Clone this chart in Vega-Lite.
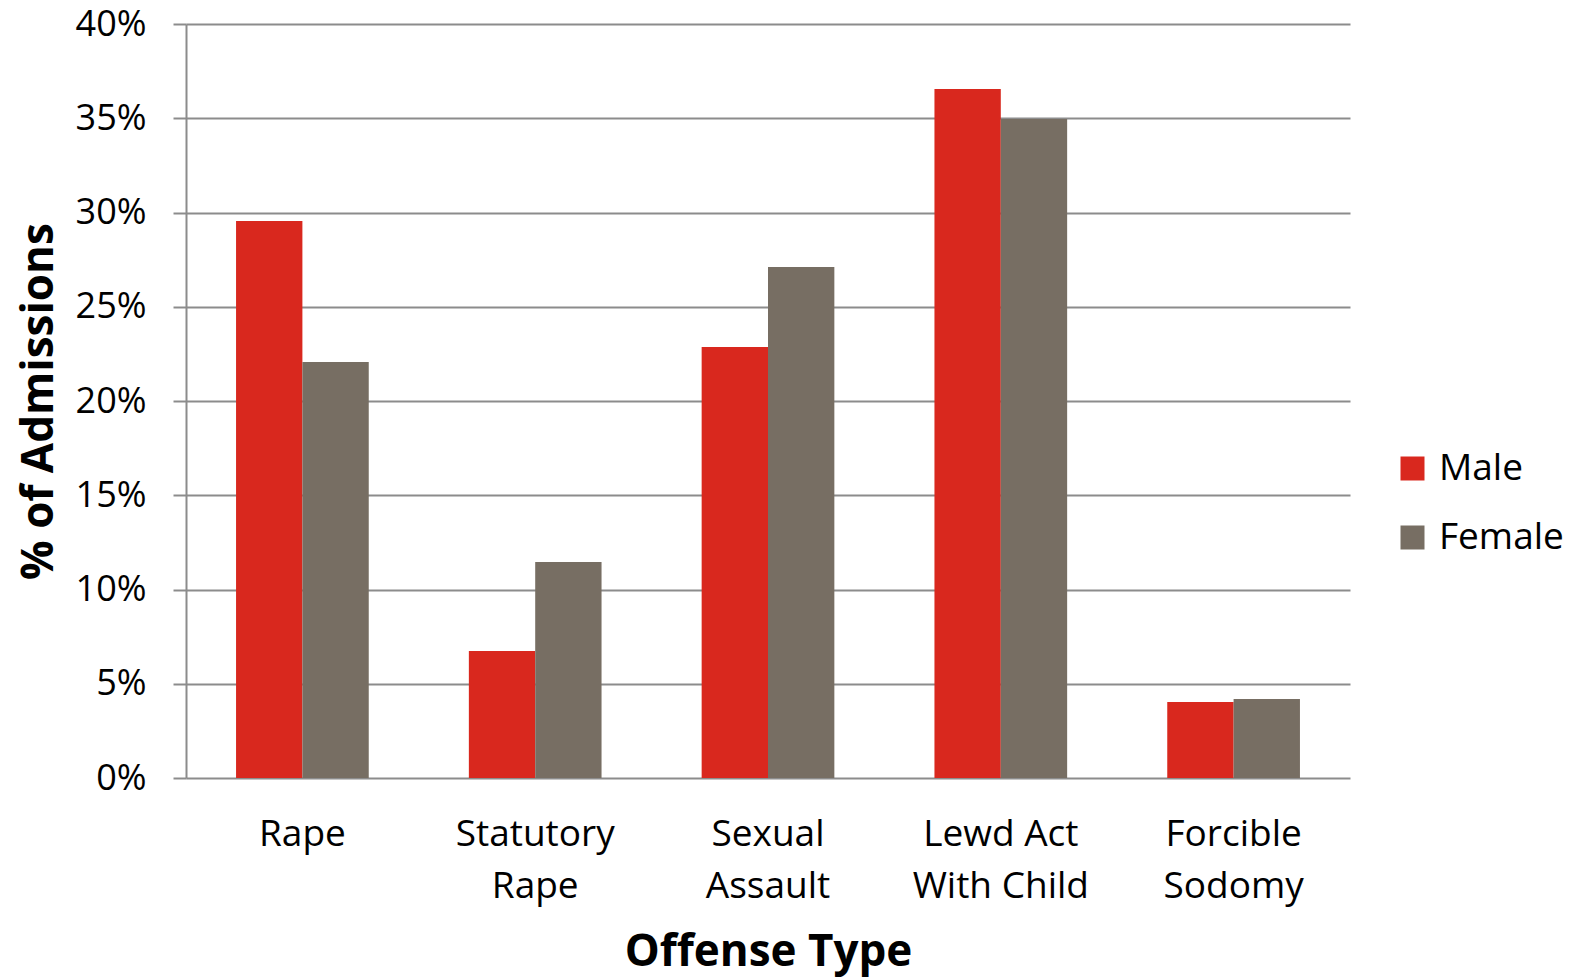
{
  "$schema": "https://vega.github.io/schema/vega-lite/v6.json",
  "autosize": {"type": "none"},
  "padding": {"left": 186, "top": 24, "right": 222, "bottom": 202},
  "width": 1164,
  "height": 754,
  "background": "white",
  "config": {"view": {"stroke": null}, "font": "Open Sans"},
  "data": {"values": [
    {"offense": "Rape", "sex": "Male", "pct": 0.2955},
    {"offense": "Rape", "sex": "Female", "pct": 0.2207},
    {"offense": "Statutory Rape", "sex": "Male", "pct": 0.0674},
    {"offense": "Statutory Rape", "sex": "Female", "pct": 0.1146},
    {"offense": "Sexual Assault", "sex": "Male", "pct": 0.2286},
    {"offense": "Sexual Assault", "sex": "Female", "pct": 0.2711},
    {"offense": "Lewd Act With Child", "sex": "Male", "pct": 0.3655},
    {"offense": "Lewd Act With Child", "sex": "Female", "pct": 0.3496},
    {"offense": "Forcible Sodomy", "sex": "Male", "pct": 0.0403},
    {"offense": "Forcible Sodomy", "sex": "Female", "pct": 0.0419}
  ]},
  "mark": {"type": "bar"},
  "encoding": {
    "x": {
      "field": "offense", "type": "nominal", "sort": null,
      "scale": {"paddingInner": 0.43, "paddingOuter": 0.215},
      "axis": {
        "title": "Offense Type",
        "titleFont": "Open Sans", "titleFontSize": 44, "titleFontWeight": "bold", "titleColor": "black",
        "titlePadding": 26,
        "labelAngle": 0, "labelFontSize": 37, "labelColor": "black", "labelPadding": 56,
        "labelLineHeight": 52, "labelBaseline": "middle",
        "labelExpr": "datum.label == 'Lewd Act With Child' ? ['Lewd Act', 'With Child'] : split(datum.label, ' ')",
        "ticks": false, "domain": false
      }
    },
    "xOffset": {"field": "sex", "type": "nominal", "sort": ["Male", "Female"], "scale": {"paddingInner": 0, "paddingOuter": 0}},
    "y": {
      "field": "pct", "type": "quantitative",
      "scale": {"domain": [0, 0.4], "nice": false},
      "axis": {
        "title": "% of Admissions",
        "titleFont": "Open Sans", "titleFontSize": 44, "titleFontWeight": "bold", "titleColor": "black",
        "titlePadding": 14,
        "format": ".0%", "values": [0, 0.05, 0.1, 0.15, 0.2, 0.25, 0.3, 0.35, 0.4],
        "labelFontSize": 36, "labelColor": "black", "labelPadding": 27,
        "tickSize": 13, "tickColor": "#8c8c8c", "tickWidth": 2,
        "grid": true, "gridColor": "#8c8c8c", "gridWidth": 2,
        "domain": true, "domainColor": "#8c8c8c", "domainWidth": 2
      }
    },
    "color": {
      "field": "sex", "type": "nominal",
      "scale": {"domain": ["Male", "Female"], "range": ["#D9281E", "#776E63"]},
      "legend": {
        "title": null, "orient": "none", "legendX": 1208, "legendY": 426,
        "symbolType": "square", "symbolSize": 576, "symbolStrokeWidth": 0,
        "labelFontSize": 37, "labelColor": "black", "labelOffset": 8,
        "rowPadding": 31
      }
    }
  }
}
